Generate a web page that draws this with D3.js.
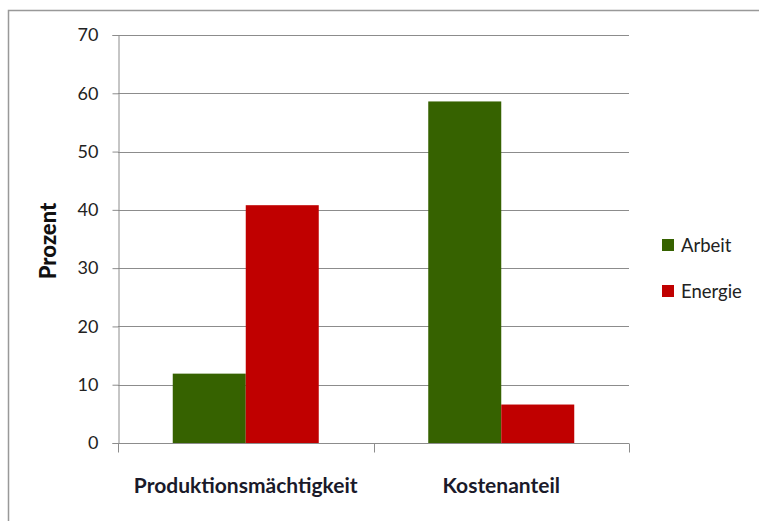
<!DOCTYPE html>
<html lang="de">
<head>
<meta charset="UTF-8">
<title>Prozent</title>
<style>
  body { margin: 0; background: #fff; }
  #canvas { width: 759px; height: 521px; }
  .grid line { stroke: #8c8c8c; stroke-width: 1; }
  .yaxis text { font-family: Lato, "Open Sans", sans-serif; font-size: 18px; fill: #222; }
  .legend text { font-family: Lato, "Open Sans", sans-serif; font-size: 18.5px; fill: #222; }
  .xaxis text { font-family: Lato, "Open Sans", sans-serif; font-size: 21px; font-weight: bold; fill: #1a1a2a; }
</style>
<script src="https://cdn.jsdelivr.net/npm/d3@7/dist/d3.min.js"></script>
</head>
<body>
<div id="canvas"></div>
<script>
//data
var categories = ["Produktionsmächtigkeit", "Kostenanteil"];
var seriesNames = ["Arbeit", "Energie"];
var arbeit = [11.9, 58.6];
var energie = [40.8, 6.6];
var yTicks = [0, 10, 20, 30, 40, 50, 60, 70];
var colors = ["#366200", "#c00000"];

var width = 759, height = 521;
var plot = {left: 118, right: 629, top: 35, bottom: 443};

var svg = d3.select("#canvas").append("svg")
  .attr("width", width).attr("height", height);

//outer frame (only top and left edges are visible)
svg.append("path")
  .attr("d", "M8.5," + height + "V10.5H" + width)
  .attr("fill", "none").attr("stroke", "#999").attr("stroke-width", 1.5);

var x = d3.scaleBand().domain(categories).range([plot.left, plot.right]);
var x1 = d3.scaleBand().domain(seriesNames)
  .range([0, x.bandwidth()]).paddingOuter(0.75).paddingInner(0);
var y = d3.scaleLinear().domain([0, 70]).range([plot.bottom, plot.top]);

//grid
svg.append("g").attr("class", "grid")
  .selectAll("line").data(yTicks.slice(1)).enter().append("line")
  .attr("x1", plot.left).attr("x2", plot.right)
  .attr("y1", function(d) { return Math.round(y(d)) + 0.5; })
  .attr("y2", function(d) { return Math.round(y(d)) + 0.5; });

//bars
var rows = categories.map(function(c, i) {
  return [{cat: c, s: "Arbeit", v: arbeit[i], c: colors[0]},
          {cat: c, s: "Energie", v: energie[i], c: colors[1]}];
});
svg.selectAll(".grp").data(rows).enter().append("g")
  .attr("transform", function(d) { return "translate(" + x(d[0].cat) + ",0)"; })
  .selectAll("rect").data(function(d) { return d; }).enter().append("rect")
  .attr("x", function(d) { return x1(d.s); })
  .attr("width", x1.bandwidth())
  .attr("y", function(d) { return y(d.v); })
  .attr("height", function(d) { return y(0) - y(d.v); })
  .attr("fill", function(d) { return d.c; });

//y axis
var yAxis = d3.axisLeft(y).tickValues(yTicks).tickSize(6).tickPadding(14);
var ya = svg.append("g").attr("class", "yaxis")
  .attr("transform", "translate(" + (plot.left + 0.5) + ",0)")
  .call(yAxis);
ya.select(".domain").attr("stroke", "#8c8c8c");
ya.selectAll(".tick line").attr("stroke", "#8c8c8c");

//x axis
var xa = svg.append("g").attr("class", "xaxis")
  .attr("transform", "translate(0," + (Math.round(y(0)) + 0.5) + ")");
xa.append("line").attr("x1", plot.left).attr("x2", plot.right)
  .attr("stroke", "#8c8c8c");
xa.selectAll(".sep").data(categories.concat(["end"])).enter().append("line")
  .attr("x1", function(d, i) { return Math.round(plot.left + i * x.bandwidth()) + 0.5; })
  .attr("x2", function(d, i) { return Math.round(plot.left + i * x.bandwidth()) + 0.5; })
  .attr("y1", 0).attr("y2", 9).attr("stroke", "#8c8c8c");
xa.selectAll("text").data(categories).enter().append("text")
  .attr("x", function(d) { return x(d) + x.bandwidth() / 2; })
  .attr("y", 49)
  .attr("text-anchor", "middle")
  .text(function(d) { return d; });

//y title
svg.append("text")
  .attr("transform", "translate(56,241) rotate(-90)")
  .attr("text-anchor", "middle")
  .style("font-family", "Lato, 'Open Sans', sans-serif")
  .style("font-size", "22px").style("font-weight", "900").style("fill", "#111")
  .text("Prozent");

//legend
var lg = svg.append("g").attr("class", "legend")
  .selectAll("g").data(seriesNames).enter().append("g")
  .attr("transform", function(d, i) { return "translate(662," + (239 + i * 46) + ")"; });
lg.append("rect").attr("width", 12).attr("height", 12)
  .attr("fill", function(d, i) { return colors[i]; });
lg.append("text").attr("x", 19).attr("y", 13).text(function(d) { return d; });
</script>
</body>
</html>
